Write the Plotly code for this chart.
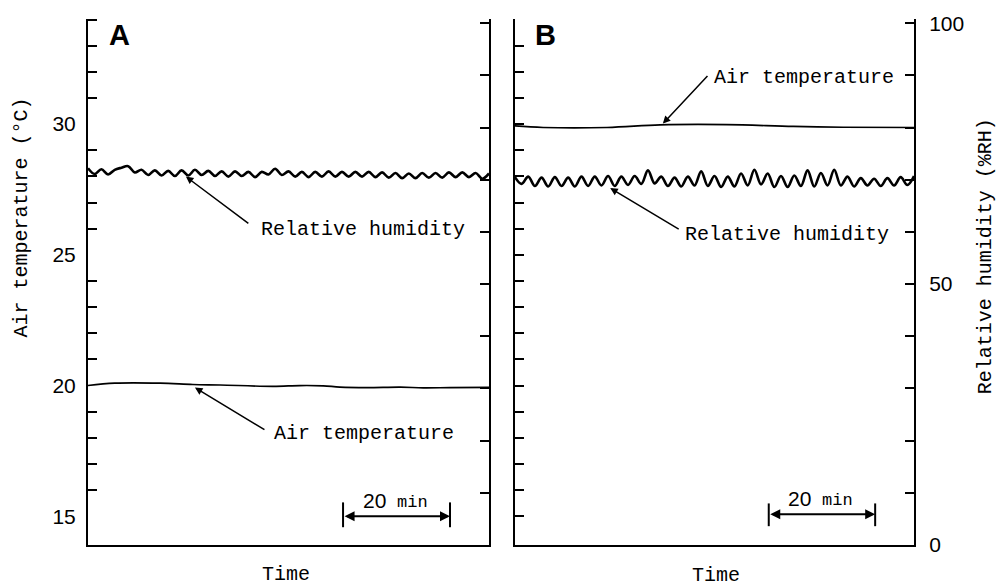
import plotly.graph_objects as go

# ---------------- data ----------------
# time (min) for humidity traces
TIME_RH = [0, 1.25, 2.5, 3.75, 5, 6.25, 7.5, 8.75, 10, 11.25, 12.5, 13.75, 15, 16.25, 17.5,
           18.75, 20, 21.25, 22.5, 23.75, 25, 26.25, 27.5, 28.75, 30, 31.25, 32.5, 33.75, 35,
           36.25, 37.5, 38.75, 40, 41.25, 42.5, 43.75, 45, 46.25, 47.5, 48.75, 50, 51.25, 52.5,
           53.75, 55, 56.25, 57.5, 58.75, 60, 61.25, 62.5, 63.75, 65, 66.25, 67.5, 68.75, 70,
           71.25, 72.5, 73.75, 75]

RH_A = [72.2, 71.1, 72.0, 71.0, 71.9, 72.3, 72.6, 71.4, 71.9, 70.9,
        71.8, 70.8, 71.7, 70.7, 71.8, 70.8, 71.9, 70.9, 71.7, 70.7,
        71.6, 70.6, 71.6, 70.7, 71.5, 70.5, 71.5, 71.0, 72.1, 70.9,
        71.6, 70.6, 71.5, 70.5, 71.5, 70.6, 71.6, 70.6, 71.5, 70.6,
        71.5, 70.6, 71.5, 70.5, 71.4, 70.4, 71.3, 70.3, 71.2, 70.3,
        71.3, 70.4, 71.3, 70.4, 71.4, 70.5, 71.4, 70.5, 71.3, 70.2,
        71.2]

RH_B = [70.5, 69.2, 70.6, 68.8, 70.4, 68.7, 70.5, 68.8, 70.4, 68.7,
        70.6, 68.8, 70.6, 68.9, 70.7, 68.8, 70.6, 69.0, 70.7, 69.2,
        71.8, 69.3, 70.6, 68.8, 70.4, 68.7, 70.6, 68.9, 71.6, 68.8,
        70.7, 68.6, 70.6, 68.7, 71.2, 68.9, 71.9, 69.1, 71.2, 68.6,
        70.7, 68.6, 70.8, 68.8, 71.8, 68.7, 71.3, 68.9, 71.9, 68.9,
        70.6, 68.7, 70.3, 68.9, 70.2, 68.8, 70.3, 68.9, 70.5, 69.0,
        70.7]

TIME_TA = [0, 5.0, 13.5, 19.6, 24.7, 34.6, 39.6, 44.0, 47.1, 52.2, 58.4, 62.7, 67.7, 75]
TEMP_A = [20.0, 20.09, 20.09, 20.04, 20.02, 19.97, 20.0, 19.99, 19.94, 19.92, 19.94, 19.91, 19.92, 19.93]

TIME_TB = [0, 5.3, 17.3, 27.3, 39.8, 52.3, 61.7, 75]
TEMP_B = [29.93, 29.87, 29.87, 29.97, 29.98, 29.91, 29.88, 29.87]

# axis ticks
TEMP_LABEL_TICKS = [15, 20, 25, 30]
TEMP_MINOR_TICKS_A = [16, 17, 18, 19, 21, 22, 23, 24, 26, 27, 28, 29, 31, 32, 33, 34]
TEMP_TICKS_B = list(range(15, 35))
RH_TICKS = [10, 20, 30, 40, 50, 60, 70, 80, 90, 100]
RH_TICKS_B = [0, 10, 20, 30, 40, 50, 60, 70, 80, 90, 100]
RH_TICK_TEXT_B = ["0", "", "", "", "", "50", "", "", "", "", "100"]

SCALE_START = 47.7   # min
SCALE_LEN = 20       # min

TEMP_RANGE = [13.9, 34.02]
RH_RANGE = [0, 100.8]
TIME_RANGE = [0, 75]

MONO = "Courier New, Liberation Mono, monospace"
SANS = "Liberation Sans, Arial, sans-serif"

fig = go.Figure()

fig.add_trace(go.Scatter(x=TIME_RH, y=RH_A, xaxis="x", yaxis="y2", mode="lines",
                         line=dict(color="black", width=2.6, shape="spline", smoothing=1.0)))
fig.add_trace(go.Scatter(x=TIME_TA, y=TEMP_A, xaxis="x", yaxis="y", mode="lines",
                         line=dict(color="black", width=1.7, shape="spline", smoothing=1.0)))
fig.add_trace(go.Scatter(x=TIME_TB, y=TEMP_B, xaxis="x2", yaxis="y3", mode="lines",
                         line=dict(color="black", width=1.7, shape="spline", smoothing=1.0)))
fig.add_trace(go.Scatter(x=TIME_RH, y=RH_B, xaxis="x2", yaxis="y4", mode="lines",
                         line=dict(color="black", width=2.6, shape="spline", smoothing=1.0)))

axis_common = dict(showgrid=False, zeroline=False, showline=True, linecolor="black", linewidth=2)

fig.update_layout(
    width=996, height=586,
    margin=dict(l=88, r=82, t=15, b=41),
    paper_bgcolor="white", plot_bgcolor="white",
    showlegend=False,
    xaxis=dict(domain=[0, 0.4855], range=TIME_RANGE, anchor="y", showticklabels=False,
               ticks="", **axis_common),
    xaxis2=dict(domain=[0.5169, 1], range=TIME_RANGE, anchor="y3", showticklabels=False,
                ticks="", **axis_common),
    yaxis=dict(range=TEMP_RANGE, anchor="x", tickvals=TEMP_LABEL_TICKS, ticks="",
               tickfont=dict(family=SANS, size=21, color="black"), ticklabelstandoff=6,
               minor=dict(tickvals=TEMP_MINOR_TICKS_A, ticks="inside", ticklen=9,
                          tickwidth=2, tickcolor="black"),
               **axis_common),
    yaxis2=dict(range=RH_RANGE, overlaying="y", side="right", anchor="x",
                tickvals=RH_TICKS, ticks="inside", ticklen=9, tickwidth=2, tickcolor="black",
                showticklabels=False, **axis_common),
    yaxis3=dict(range=TEMP_RANGE, anchor="x2", tickvals=TEMP_TICKS_B, ticks="inside",
                ticklen=9, tickwidth=2, tickcolor="black", showticklabels=False, **axis_common),
    yaxis4=dict(range=RH_RANGE, overlaying="y3", side="right", anchor="x2",
                tickvals=RH_TICKS_B, ticktext=RH_TICK_TEXT_B, ticks="inside", ticklen=9,
                tickwidth=2, tickcolor="black", ticklabelstandoff=9,
                tickfont=dict(family=SANS, size=21, color="black"), **axis_common),
)

ann = []
# panel letters
ann.append(dict(x=5.8, y=33.4, xref="x", yref="y", text="<b>A</b>", showarrow=False,
                font=dict(family=SANS, size=29, color="black")))
ann.append(dict(x=5.8, y=33.4, xref="x2", yref="y3", text="<b>B</b>", showarrow=False,
                font=dict(family=SANS, size=29, color="black")))

mono_font = dict(family=MONO, size=20, color="black")
# Panel A labels
ann.append(dict(x=32.0, y=60.5, xref="x", yref="y2", text="Relative humidity", showarrow=False,
                xanchor="left", yanchor="middle", font=mono_font))
ann.append(dict(x=18.3, y=70.6, xref="x", yref="y2", text="", showarrow=True, ax=64, ay=48,
                arrowhead=2, arrowsize=1, arrowwidth=1.5, arrowcolor="black", standoff=0))
ann.append(dict(x=34.4, y=18.18, xref="x", yref="y", text="Air temperature", showarrow=False,
                xanchor="left", yanchor="middle", font=mono_font))
ann.append(dict(x=20.0, y=19.92, xref="x", yref="y", text="", showarrow=True, ax=71, ay=43,
                arrowhead=2, arrowsize=1, arrowwidth=1.5, arrowcolor="black", standoff=0))
# Panel B labels
ann.append(dict(x=37.0, y=31.78, xref="x2", yref="y3", text="Air temperature", showarrow=False,
                xanchor="left", yanchor="middle", font=mono_font))
ann.append(dict(x=27.8, y=30.02, xref="x2", yref="y3", text="", showarrow=True, ax=46, ay=-49,
                arrowhead=2, arrowsize=1, arrowwidth=1.5, arrowcolor="black", standoff=0))
ann.append(dict(x=31.6, y=59.5, xref="x2", yref="y4", text="Relative humidity", showarrow=False,
                xanchor="left", yanchor="middle", font=mono_font))
ann.append(dict(x=17.9, y=68.4, xref="x2", yref="y4", text="", showarrow=True, ax=70, ay=42,
                arrowhead=2, arrowsize=1, arrowwidth=1.5, arrowcolor="black", standoff=0))

# axis titles
ann.append(dict(x=-0.0799, y=0.6226, xref="paper", yref="paper", text="Air temperature (°C)",
                textangle=-90, showarrow=False, xanchor="center", yanchor="middle", font=mono_font))
ann.append(dict(x=1.086, y=0.549, xref="paper", yref="paper", text="Relative humidity (%RH)",
                textangle=-90, showarrow=False, xanchor="center", yanchor="middle", font=mono_font))
ann.append(dict(x=0.2397, y=-0.0566, xref="paper", yref="paper", text="Time",
                showarrow=False, xanchor="center", yanchor="middle", font=mono_font))
ann.append(dict(x=0.7603, y=-0.058, xref="paper", yref="paper", text="Time",
                showarrow=False, xanchor="center", yanchor="middle", font=mono_font))

shapes = []
# scale bars
for xr, yr, ybar, ylo, yhi, ytxt in [("x", "y", 15.0, 14.58, 15.53, 15.62),
                                     ("x2", "y3", 15.08, 14.62, 15.49, 15.68)]:
    x0 = SCALE_START
    x1 = SCALE_START + SCALE_LEN
    ann.append(dict(x=x1, y=ybar, ax=x0, ay=ybar, xref=xr, yref=yr, axref=xr, ayref=yr,
                    text="", showarrow=True, arrowhead=2, arrowside="end+start", arrowsize=1,
                    arrowwidth=2, arrowcolor="black", standoff=0, startstandoff=0))
    for xv in (x0, x1):
        shapes.append(dict(type="line", xref=xr, yref=yr, x0=xv, x1=xv, y0=ylo, y1=yhi,
                           line=dict(color="black", width=2)))
    ann.append(dict(x=x0 + 5.8, y=ytxt, xref=xr, yref=yr, text="20", showarrow=False,
                    xanchor="center", yanchor="middle",
                    font=dict(family=SANS, size=21, color="black")))
    ann.append(dict(x=x0 + 13.0, y=ytxt - 0.08, xref=xr, yref=yr, text="min", showarrow=False,
                    xanchor="center", yanchor="middle",
                    font=dict(family=MONO, size=17, color="black")))

fig.update_layout(annotations=ann, shapes=shapes)

fig.write_html("out.html")
